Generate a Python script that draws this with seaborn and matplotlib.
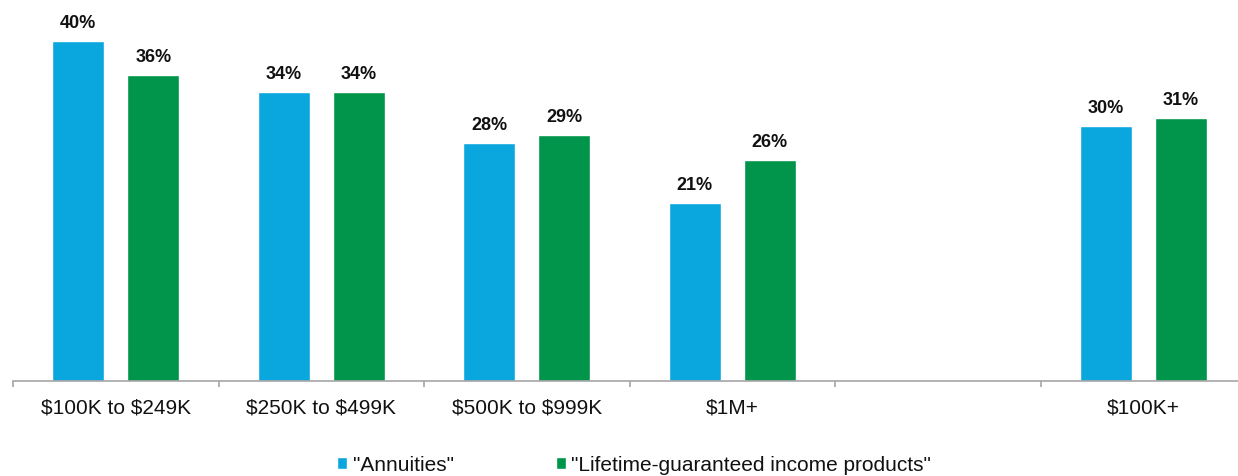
import numpy as np
import pandas as pd
import matplotlib
matplotlib.use("Agg")
import matplotlib.pyplot as plt
import seaborn as sns

# ── Data ───────────────────────────────────────────────────────────────────────

categories = ["$100K to $249K", "$250K to $499K", "$500K to $999K", "$1M+", " ", "$100K+"]
series = ['"Annuities"', '"Lifetime-guaranteed income products"']
annuities = [40, 34, 28, 21, np.nan, 30]
lifetime = [36, 34, 29, 26, np.nan, 31]
colors = ["#0AA6DE", "#00954A"]

df = pd.DataFrame({
    "group": categories * 2,
    "series": [series[0]] * len(categories) + [series[1]] * len(categories),
    "value": annuities + lifetime,
})

# ── Plot ───────────────────────────────────────────────────────────────────────

sns.set_style("white")
plt.rcParams["font.family"] = ["Liberation Sans", "DejaVu Sans"]
plt.rcParams["text.parse_math"] = False   # keep the "$" signs literal

W, H = 1238, 477
fig = plt.figure(figsize=(W / 100, H / 100), dpi=100)
ax = fig.add_axes([13 / W, 95 / H, 1233 / W, 374 / H])

sns.barplot(data=df.dropna(), x="group", y="value", hue="series",
            order=categories, hue_order=series, palette=colors,
            width=0.73, gap=0.31, saturation=1, ax=ax, legend=True)

for cont in ax.containers:
    ax.bar_label(cont, fmt="%d%%", padding=7, fontsize=13,
                 fontweight="bold", color="#111111")

ax.set_xlim(-0.5, len(categories) - 0.5)
ax.set_ylim(0, 44)
ax.set_xlabel("")
ax.set_ylabel("")
ax.set_yticks([])
ax.set_xticks(range(len(categories)))
ax.set_xticklabels(categories, fontsize=15, color="#111111")
ax.set_xticks(np.arange(-0.5, len(categories), 1), minor=True)
ax.tick_params(axis="x", which="major", length=0, pad=12)
ax.tick_params(axis="x", which="minor", length=4.5, width=1.2,
               color="#A6A6A6", direction="out", bottom=True)

for s in ["top", "right", "left"]:
    ax.spines[s].set_visible(False)
ax.spines["bottom"].set_color("#A6A6A6")
ax.spines["bottom"].set_linewidth(1.2)

handles, labels = ax.get_legend_handles_labels()
ax.get_legend().remove()
fig.legend(handles, labels, loc="center", bbox_to_anchor=(634 / W, 1 - 466 / H),
           ncol=2, frameon=False, fontsize=15, handlelength=0.5,
           handleheight=0.5, handletextpad=0.25, columnspacing=4.9,
           labelcolor="#111111")

fig.savefig("out.png", dpi=100)
